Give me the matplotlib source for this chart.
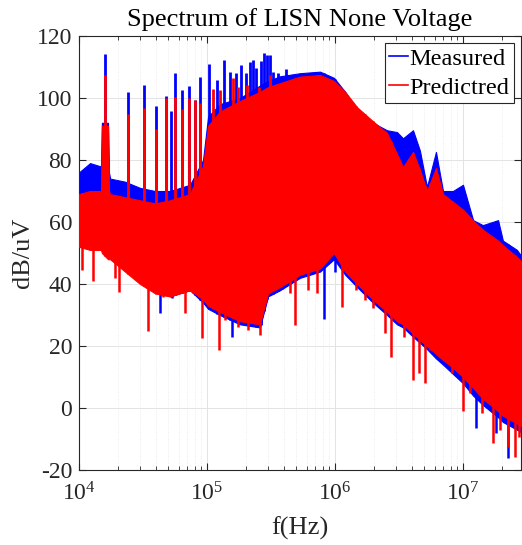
import numpy as np
import matplotlib
matplotlib.use("Agg")
import matplotlib.pyplot as plt
from matplotlib.ticker import LogLocator, LogFormatterSciNotation, NullFormatter

plt.rcParams['font.family'] = ['Liberation Serif', 'DejaVu Serif']
plt.rcParams['mathtext.fontset'] = 'custom'
plt.rcParams['mathtext.rm'] = 'Liberation Serif'
plt.rcParams['mathtext.it'] = 'Liberation Serif:italic'
plt.rcParams['mathtext.bf'] = 'Liberation Serif:bold'
plt.rcParams['axes.unicode_minus'] = False

# ---------------- data ----------------
# envelope frequencies (Hz)
env_freq = [1.00e4, 1.22e4, 1.46e4, 1.485e4, 1.51e4, 1.685e4, 1.715e4, 1.75e4, 2.29e4,
            3.0e4, 3.93e4, 5.14e4, 7.36e4, 9.31e4, 1.02e5, 1.26e5, 1.81e5, 2.59e5,
            3.0e5, 3.72e5, 5.33e5, 7.64e5, 9.82e5, 1.20e6, 1.49e6, 1.98e6, 2.55e6,
            3.05e6, 3.40e6, 4.07e6, 4.61e6, 5.23e6, 6.15e6, 6.98e6, 8.35e6, 1.00e7,
            1.20e7, 1.43e7, 1.88e7, 2.05e7, 2.64e7, 2.89e7]
# measured (blue) band
meas_top = [76, 79, 78, 78, 92, 92, 76, 74, 73,
            71, 70, 70, 72, 80, 94, 98, 100, 104,
            105.5, 107, 108, 108.5, 106.5, 102, 96, 92, 89.6,
            89, 87, 89.6, 83, 71.3, 82.6, 70, 70, 72,
            60.6, 59, 60.6, 54, 51, 48.7]
meas_bot = [55, 54, 53, 53, 53, 52, 52, 50, 46,
            42, 38, 36, 38, 34, 32, 30, 27, 26,
            36, 38, 42, 44, 48, 43, 39, 34, 30,
            27, 26, 23, 21, 19, 16, 14, 11, 8,
            4, 1, -3, -4.5, -7, -8]
# predicted (red) band
pred_top = [69, 70, 70, 70, 91, 91, 70, 69, 68,
            67, 66, 67, 69, 78, 91, 95.6, 99, 102,
            103.5, 104.8, 106.9, 107.4, 105.5, 102, 97, 92.5, 88.7,
            82, 77.7, 82.6, 76.8, 70, 77.4, 69, 66.5, 64,
            60.5, 57.5, 54, 52.5, 48.7, 47]
pred_bot = [52, 51, 51, 51, 50, 48, 48, 48, 44,
            40, 37, 36, 38, 35, 33, 31, 28, 27,
            37, 39, 43, 45, 50, 44, 40, 35, 31,
            28, 27, 24, 22, 20, 17.5, 15.5, 13, 10,
            6.5, 3, -1, -2.5, -5, -6]

# harmonic peaks (Hz, dB)
meas_peak_f = [16e3, 24e3, 32e3, 40e3, 48e3, 52e3, 56e3, 64e3, 72e3, 80e3, 88e3,
               104e3, 120e3, 136e3, 152e3, 168e3, 184e3, 200e3, 216e3, 227e3, 242e3,
               262e3, 280e3, 296e3, 311e3, 329e3, 360e3, 384e3, 418e3]
meas_peak_v = [114.2, 102, 104.2, 97.3, 100.5, 95.9, 108, 102.5, 104, 99.4, 106.8,
               111, 105.8, 112.3, 108.5, 108, 110.6, 108, 111.7, 112.3, 109.6,
               112, 114.6, 113.9, 113.9, 108.5, 108, 106.9, 109.3]
pred_peak_f = [16e3, 24e3, 32e3, 40e3, 48e3, 56e3, 64e3, 72e3, 80e3, 88e3,
               111e3, 127e3, 159e3, 176e3, 204e3, 257e3, 311e3]
pred_peak_v = [107.4, 95, 96.7, 90, 100, 100.3, 96.4, 100, 99.4, 98.4,
               102.8, 102.6, 106.3, 103.6, 104.2, 103.6, 107.4]

# downward dips (Hz, dB)
meas_dip_f = [42.9e3, 53.0e3, 156e3, 820e3, 1.0e6, 1.27e7, 1.80e7, 2.23e7]
meas_dip_v = [30.6, 35.5, 23, 28.7, 44, -6.5, -8, -16]
pred_dip_f = [10.5e3, 12.9e3, 19.1e3, 20.5e3, 25.8e3, 34.8e3, 45.6e3, 59.7e3, 67.3e3,
              77.7e3, 90.9e3, 105.5e3, 123e3, 138e3, 176e3, 209e3, 259e3, 310e3,
              445e3, 487e3, 619e3, 719e3, 1.13e6, 1.46e6, 1.72e6, 1.98e6, 2.46e6,
              2.72e6, 3.46e6, 4.09e6, 4.56e6, 5.05e6, 5.52e6, 6.61e6, 8.16e6, 1.0e7,
              1.135e7, 1.40e7, 1.72e7, 1.95e7, 2.26e7, 2.55e7, 2.75e7]
pred_dip_v = [44.5, 41, 42, 37.4, 43, 25, 35.8, 37, 30.6,
              37, 22.6, 35.8, 18.7, 28.4, 26, 25.2, 23.5, 38,
              37, 26.8, 38, 37, 32.6, 38, 34.8, 32.2, 24.2,
              16.5, 23, 9, 11.3, 8, 18.7, 16.5, 11.3, -1,
              4.8, -1.6, -11.2, -7, -12.5, -15.7, -9.3]

x_ticks = [1e4, 1e5, 1e6, 1e7]
y_ticks = [-20, 0, 20, 40, 60, 80, 100, 120]

# ---------------- figure ----------------
fig = plt.figure(figsize=(5.22, 5.45), dpi=100)
ax = fig.add_axes([79 / 522, 1 - 470 / 545, (521 - 79) / 522, (470 - 36) / 545])

blue = (0, 0, 1)
red = (1, 0, 0)
lw = 2.0

lf = np.log10(env_freq)

def band_at(f, arr):
    return np.interp(np.log10(f), lf, arr)

# measured
ax.fill_between(env_freq, meas_bot, meas_top, color=blue, lw=0.8, edgecolor=blue, zorder=2)
ax.vlines(meas_peak_f, band_at(meas_peak_f, meas_bot), meas_peak_v, color=blue, lw=lw, zorder=2)
ax.vlines(meas_dip_f, meas_dip_v, band_at(meas_dip_f, meas_top), color=blue, lw=1.8, zorder=2)
# predicted
ax.fill_between(env_freq, pred_bot, pred_top, color=red, lw=0.8, edgecolor=red, zorder=3)
ax.vlines(pred_peak_f, band_at(pred_peak_f, pred_bot), pred_peak_v, color=red, lw=lw, zorder=3)
ax.vlines(pred_dip_f, pred_dip_v, band_at(pred_dip_f, pred_top), color=red, lw=1.8, zorder=3)

# legend proxies
ax.plot([], [], color=blue, lw=1.2, label='Measured')
ax.plot([], [], color=red, lw=1.2, label='Predictred')

ax.set_xscale('log')
ax.set_xlim(1e4, 2.84e7)
ax.set_ylim(-20, 120)
ax.set_xticks(x_ticks)
ax.xaxis.set_major_formatter(LogFormatterSciNotation())
ax.xaxis.set_minor_locator(LogLocator(base=10, subs=np.arange(2, 10), numticks=20))
ax.xaxis.set_minor_formatter(NullFormatter())
ax.set_yticks(y_ticks)

dark = '#262626'
for s in ax.spines.values():
    s.set_color(dark)
    s.set_linewidth(0.8)
ax.tick_params(which='both', direction='in', top=True, right=True, colors=dark,
               labelsize=17, labelcolor=dark)
ax.tick_params(which='major', length=5)
ax.tick_params(axis='x', which='major', pad=9)
ax.tick_params(axis='y', which='major', pad=5)
ax.tick_params(which='minor', length=3)

ax.grid(True, which='major', color='#e3e3e3', lw=0.7, zorder=0)
ax.grid(True, which='minor', axis='x', color='#e8e8e8', lw=0.6, ls=':', zorder=0)
ax.set_axisbelow(True)

ax.set_title('Spectrum of LISN None Voltage', fontsize=19, color='black', pad=7)
ax.set_xlabel('f(Hz)', fontsize=19, color=dark, labelpad=8)
ax.set_ylabel('dB/uV', fontsize=19, color=dark, labelpad=2)

leg = ax.legend(loc='upper right', fontsize=17.5, frameon=True, fancybox=False,
                framealpha=1, edgecolor=dark, handlelength=0.75, handletextpad=0.08,
                borderpad=0.18, labelspacing=0.3, borderaxespad=0.3)
leg.get_frame().set_linewidth(0.8)

fig.savefig('out.png', dpi=100)
